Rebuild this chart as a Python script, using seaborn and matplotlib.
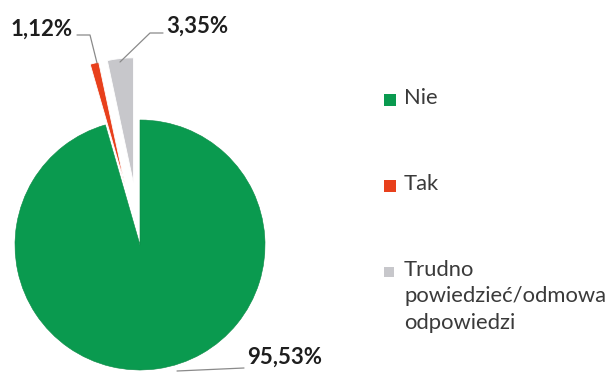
import matplotlib
matplotlib.use("Agg")
import matplotlib.pyplot as plt
import seaborn as sns
from matplotlib.patches import Rectangle

# Survey answer shares (percent)
categories = ["Nie", "Tak", "Trudno\npowiedzieć/odmowa\nodpowiedzi"]
shares = [95.53, 1.12, 3.35]
value_labels = ["95,53%", "1,12%", "3,35%"]
colors = ["#0A9A4F", "#E8401C", "#C7C7CB"]
explode = [0.0, 0.5, 0.5]

sns.set_theme(style="white")
plt.rcParams["font.family"] = ["Lato", "DejaVu Sans"]

W, H = 616, 372
fig = plt.figure(figsize=(W / 100, H / 100), dpi=100)
ax = fig.add_axes([0, 0, 1, 1])

# pie centre and radius in pixels, used to map the axes to the canvas
cx, cy, R = 140, 245, 125

wedges, _ = ax.pie(
    shares,
    colors=colors,
    explode=explode,
    startangle=90,
    counterclock=False,
    radius=1.0,
    wedgeprops=dict(linewidth=0.6, edgecolor="white"),
)
wedges[0].set_edgecolor("#0A8A45")
wedges[0].set_linewidth(0.4)

ax.set_xlim(-cx / R, (W - cx) / R)
ax.set_ylim(-(H - cy) / R, cy / R)
ax.set_aspect("equal", adjustable="box")
ax.axis("off")


def px(x, y):
    """Canvas pixel (from top-left) to data coordinates."""
    return ((x - cx) / R, (cy - y) / R)


line_kw = dict(color="#8A8A8A", lw=0.9)
label_kw = dict(fontsize=16, fontweight="bold", color="#1E1E1E")

# 1,12%
xs, ys = zip(px(97, 63), px(90, 35), px(77, 35))
ax.plot(xs, ys, **line_kw)
ax.text(*px(73, 29), value_labels[1], ha="right", va="center", **label_kw)

# 3,35%
xs, ys = zip(px(120, 62), px(150, 33), px(163, 33))
ax.plot(xs, ys, **line_kw)
ax.text(*px(166, 26), value_labels[2], ha="left", va="center", **label_kw)

# 95,53%
xs, ys = zip(px(177, 371), px(244, 368))
ax.plot(xs, ys, **line_kw)
ax.text(*px(247, 357), value_labels[0], ha="left", va="center", **label_kw)

# legend
legend_rows = [100, 186, 272]
for name, col, yrow in zip(categories, colors, legend_rows):
    size = 12 if col != colors[2] else 10
    fig.patches.append(
        Rectangle(((384) / W, 1 - (yrow + size / 2) / H), size / W, size / H,
                  transform=fig.transFigure, facecolor=col, edgecolor="none")
    )
    fig.text(404 / W, 1 - (yrow - 12) / H, name, ha="left", va="top",
             fontsize=15.8, color="#3A3A3A", linespacing=1.4)

fig.savefig("out.png", dpi=100)
